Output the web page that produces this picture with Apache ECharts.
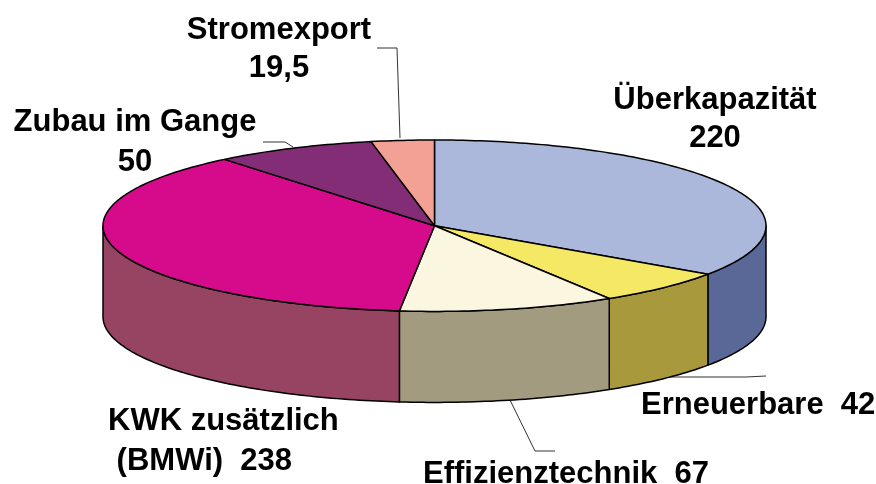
<!DOCTYPE html>
<html>
<head>
<meta charset="utf-8">
<script src="https://cdn.jsdelivr.net/npm/echarts@6/dist/echarts.min.js"></script>
<style>
  html, body { margin: 0; padding: 0; background: #fff; }
  #chart { width: 876px; height: 484px; }
</style>
</head>
<body>
<div id="chart"></div>
<script>
  // Daten (GW bzw. Mrd kWh), im Uhrzeigersinn ab 12 Uhr
  const names = ['Überkapazität', 'Erneuerbare', 'Effizienztechnik', 'KWK zusätzlich', 'Zubau im Gange', 'Stromexport']
  const values = [220, 42, 67, 238, 50, 19.5]
  const topColors = ['#abb8dc', '#f4e864', '#fbf6df', '#d60b8b', '#842d77', '#f4a195']
  const sideColors = ['#5a6897', '#a8993c', '#a39b7f', '#974463', '#5a1e50', '#a86a62']

  const total = values.reduce((a, b) => a + b, 0)
  const fmt = v => String(v).replace('.', ',')

  // Ellipse des 3D-Kuchens
  const pie = { cx: 434.5, cy: 225.7, rx: 331.5, ry: 85.7, depth: 91 }

  const pt = (deg, dy) => {
    const r = deg * Math.PI / 180
    return [pie.cx + pie.rx * Math.sin(r), pie.cy - pie.ry * Math.cos(r) + (dy || 0)]
  }
  const arc = (a, b, dy) => {
    const pts = []
    const n = Math.max(2, Math.ceil(Math.abs(b - a)))
    for (let i = 0; i <= n; i++) pts.push(pt(a + (b - a) * i / n, dy))
    return pts
  }

  function renderItem (params, api) {
    const i = params.dataIndex
    let before = 0
    for (let k = 0; k < i; k++) before += values[k]
    const a0 = before / total * 360
    const a1 = (before + api.value(0)) / total * 360
    const children = []
    // Seitenwand (nur vordere Hälfte sichtbar)
    const s0 = Math.max(a0, 90)
    const s1 = Math.min(a1, 270)
    if (s1 > s0) {
      const pts = arc(s0, s1, 0).concat(arc(s1, s0, pie.depth))
      children.push({
        type: 'polygon',
        shape: { points: pts },
        style: { fill: sideColors[i], stroke: '#000', lineWidth: 1.5, lineJoin: 'round' }
      })
    }
    // Deckfläche
    children.push({
      type: 'polygon',
      shape: { points: [[pie.cx, pie.cy]].concat(arc(a0, a1, 0)) },
      style: { fill: topColors[i], stroke: '#000', lineWidth: 1.5, lineJoin: 'round' }
    })
    return { type: 'group', children: children }
  }

  const font = 'bold 31px "Liberation Sans", Arial, sans-serif'
  const labels = [
    { text: names[0] + '\n' + fmt(values[0]), x: 715, y: 119, align: 'center', lh: 38 },
    { text: names[1] + '  ' + fmt(values[1]), x: 641, y: 405, align: 'left', lh: 38 },
    { text: names[2] + '  ' + fmt(values[2]), x: 423, y: 474.5, align: 'left', lh: 38 },
    { text: names[3] + '\n (BMWi)  ' + fmt(values[3]), x: 108, y: 441.5, align: 'left', lh: 40 },
    { text: names[4] + '\n' + fmt(values[4]), x: 135, y: 142.5, align: 'center', lh: 40 },
    { text: names[5] + '\n' + fmt(values[5]), x: 279, y: 49.5, align: 'center', lh: 38 }
  ]
  const leaders = [
    [[667, 377], [746, 377], [766, 376]],
    [[510, 400], [535, 451], [555, 451]],
    [[263, 142], [285, 142], [293, 147]],
    [[377, 48], [397, 48], [400, 138]]
  ]

  const graphic = []
  leaders.forEach(p => graphic.push({
    type: 'polyline', shape: { points: p },
    style: { stroke: '#333', lineWidth: 1, fill: null }
  }))
  labels.forEach(l => graphic.push({
    type: 'text',
    style: {
      text: l.text, x: l.x, y: l.y, font: font, fill: '#000',
      align: l.align, verticalAlign: 'middle', lineHeight: l.lh
    }
  }))

  const chart = echarts.init(document.getElementById('chart'))
  chart.setOption({
    backgroundColor: '#fff',
    animation: false,
    series: [{
      type: 'custom',
      coordinateSystem: 'none',
      renderItem: renderItem,
      data: values.map((v, i) => ({ name: names[i], value: [v] }))
    }],
    graphic: graphic
  })
</script>
</body>
</html>
